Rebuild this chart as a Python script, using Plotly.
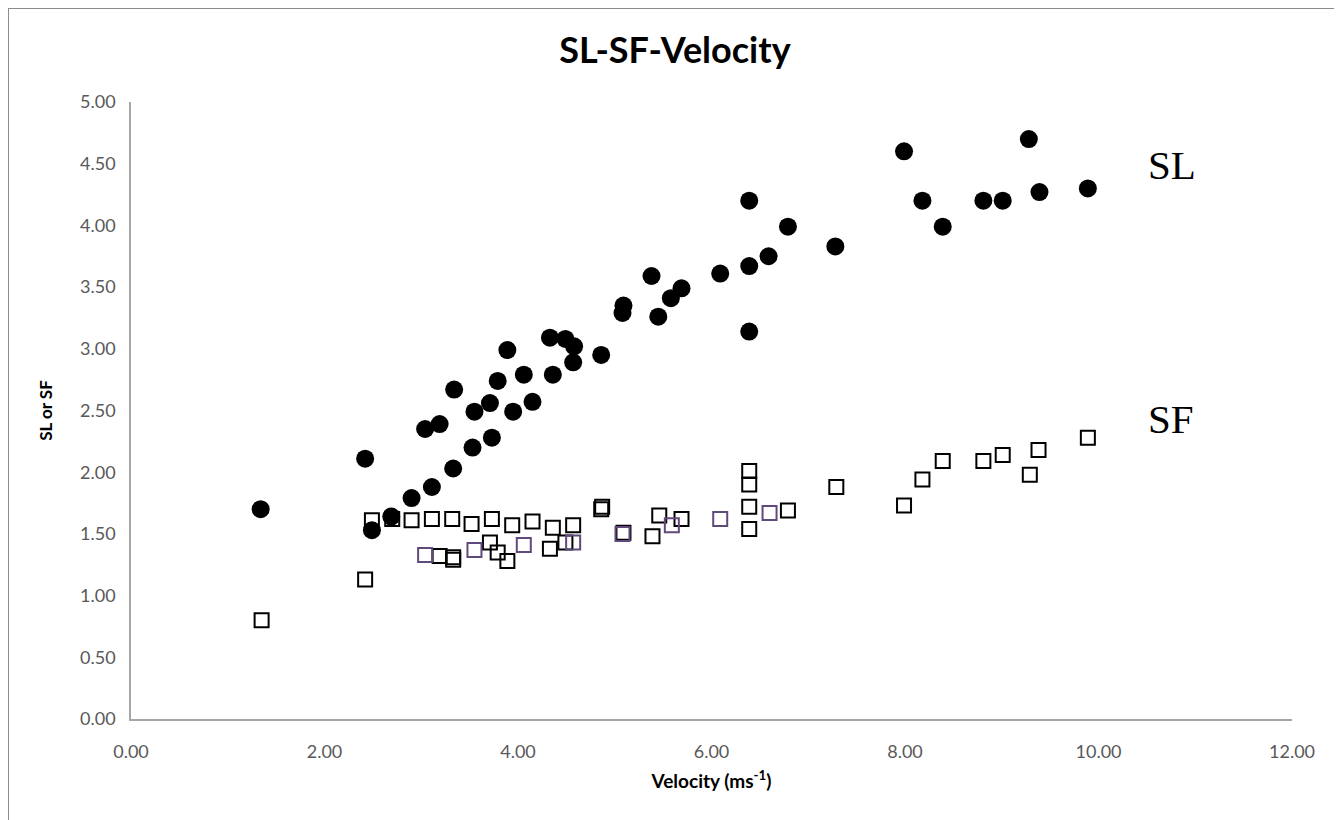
import plotly.graph_objects as go

# SL (stroke length) vs velocity
sl_x = [1.34, 2.42, 2.49, 2.69, 2.90, 3.11, 3.33, 3.04, 3.19, 3.34, 3.53, 3.55, 3.73, 3.71,
        3.79, 3.89, 3.95, 4.06, 4.15, 4.36, 4.33, 4.49, 4.58, 4.57, 4.86, 5.08, 5.09, 5.38,
        5.45, 5.58, 5.69, 6.09, 6.39, 6.39, 6.39, 6.59, 6.79, 7.28, 7.99, 8.18, 8.39, 8.81,
        9.01, 9.28, 9.39, 9.89]
sl_y = [1.70, 2.11, 1.53, 1.64, 1.79, 1.88, 2.03, 2.35, 2.39, 2.67, 2.20, 2.49, 2.28, 2.56,
        2.74, 2.99, 2.49, 2.79, 2.57, 2.79, 3.09, 3.08, 3.02, 2.89, 2.95, 3.29, 3.35, 3.59,
        3.26, 3.41, 3.49, 3.61, 3.67, 3.14, 4.20, 3.75, 3.99, 3.83, 4.60, 4.20, 3.99, 4.20,
        4.20, 4.70, 4.27, 4.30]

# SF (stroke frequency) vs velocity - black squares
sf_x = [1.35, 2.42, 2.49, 2.70, 2.90, 3.11, 3.32, 3.52, 3.73, 3.94, 4.15, 4.36, 4.57, 4.86,
        4.87, 3.19, 3.33, 3.33, 3.71, 3.79, 3.89, 4.33, 4.49, 5.09, 5.39, 5.46, 5.69, 6.39,
        6.39, 6.39, 6.39, 6.79, 7.29, 7.99, 8.18, 8.39, 8.81, 9.01, 9.29, 9.38, 9.89]
sf_y = [0.80, 1.13, 1.61, 1.62, 1.61, 1.62, 1.62, 1.58, 1.62, 1.57, 1.60, 1.55, 1.57, 1.70,
        1.72, 1.32, 1.29, 1.31, 1.43, 1.35, 1.28, 1.38, 1.43, 1.51, 1.48, 1.65, 1.62, 2.01,
        1.90, 1.72, 1.54, 1.69, 1.88, 1.73, 1.94, 2.09, 2.09, 2.14, 1.98, 2.18, 2.28]

# SF - purple squares
sf2_x = [3.04, 3.55, 4.06, 4.57, 5.08, 5.59, 6.09, 6.60]
sf2_y = [1.33, 1.37, 1.41, 1.43, 1.50, 1.57, 1.62, 1.67]

x_ticks = [0, 2, 4, 6, 8, 10, 12]
y_ticks = [0, 0.5, 1, 1.5, 2, 2.5, 3, 3.5, 4, 4.5, 5]

W, H = 1334, 812  # page body has an 8px margin

fig = go.Figure()
fig.add_trace(go.Scatter(x=sf_x, y=sf_y, mode="markers", name="SF",
                         marker=dict(symbol="square-open", size=14, color="#000000",
                                     line=dict(width=2, color="#000000"))))
fig.add_trace(go.Scatter(x=sf2_x, y=sf2_y, mode="markers", name="SF2",
                         marker=dict(symbol="square-open", size=14, color="#604A7B",
                                     line=dict(width=2, color="#604A7B"))))
fig.add_trace(go.Scatter(x=sl_x, y=sl_y, mode="markers", name="SL",
                         marker=dict(symbol="circle", size=18, color="#000000",
                                     line=dict(width=0))))

fig.add_annotation(x=10.49, y=4.49, xref="x", yref="y", text="SL", showarrow=False,
                   xanchor="left", yanchor="middle",
                   font=dict(family="Liberation Serif", size=41, color="#000000"))
fig.add_annotation(x=10.49, y=2.43, xref="x", yref="y", text="SF", showarrow=False,
                   xanchor="left", yanchor="middle",
                   font=dict(family="Liberation Serif", size=41, color="#000000"))

# outer chart border
fig.add_shape(type="rect", xref="paper", yref="paper",
              x0=(0 - 123) / 1161, x1=(1331 - 123) / 1161,
              y0=(711 - 830) / 617, y1=(711 - 0) / 617,
              line=dict(color="#8c8c8c", width=2), layer="below")

fig.update_layout(
    width=W, height=H,
    paper_bgcolor="#ffffff", plot_bgcolor="#ffffff",
    margin=dict(l=123, r=50, t=94, b=101),
    showlegend=False,
    title=dict(text="<b>SL-SF-Velocity</b>", x=0.5, xref="container", xanchor="center",
               y=1 - 42 / H, yref="container", yanchor="middle",
               font=dict(family="Lato", size=36, color="#000000")),
    font=dict(family="Lato", color="#595959"),
)
fig.update_xaxes(range=[0, 12], tickvals=x_ticks, ticktext=[f"{v:.2f}" for v in x_ticks],
                 showgrid=False, zeroline=False, showline=True, linecolor="#a6a6a6",
                 linewidth=1.5, ticks="outside", ticklen=16, tickcolor="rgba(0,0,0,0)",
                 tickfont=dict(family="Lato", size=18, color="#595959"),
                 title=dict(text="<b>Velocity (ms<sup>-1</sup>)</b>", standoff=13,
                            font=dict(family="Lato", size=19, color="#000000")))
fig.update_yaxes(range=[0, 5], tickvals=y_ticks, ticktext=[f"{v:.2f}" for v in y_ticks],
                 showgrid=False, zeroline=False, showline=True, linecolor="#a6a6a6",
                 linewidth=1.5, ticks="outside", ticklen=10, tickcolor="rgba(0,0,0,0)",
                 tickfont=dict(family="Lato", size=18, color="#595959"),
                 title=dict(text="<b>SL or SF</b>", standoff=23,
                            font=dict(family="Lato", size=17, color="#000000")))

fig.write_html("out.html")
